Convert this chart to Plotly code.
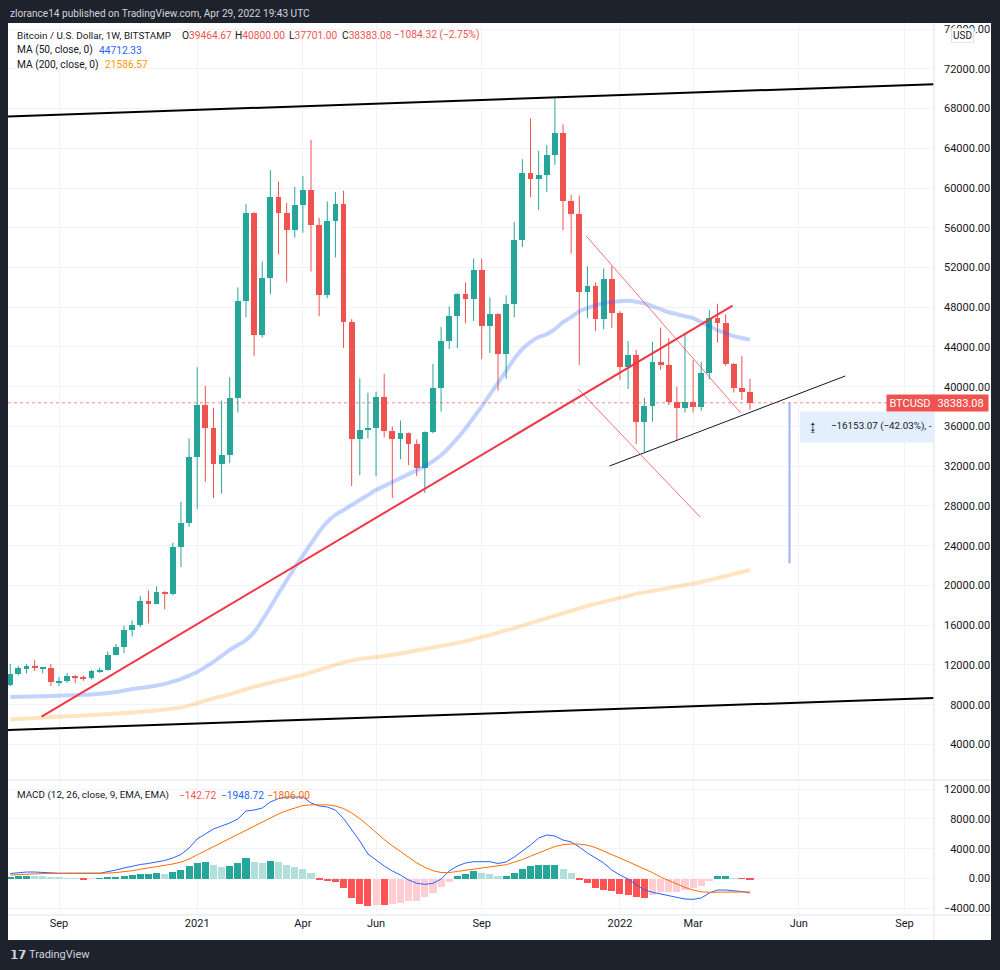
import plotly.graph_objects as go
import pandas as pd

# ---------------- data ----------------
dates = pd.date_range("2020-07-27", periods=92, freq="7D")

opens = [9930, 11050, 11680, 11880, 11650, 11700, 10250, 10340, 10930, 10780,
         10680, 11380, 11500, 13030, 13780, 15480, 15970, 18420, 18180, 19350,
         19150, 23860, 26250, 32950, 38150, 35800, 32250, 33100, 38900, 48600,
         57500, 45250, 50970, 59050, 57450, 55800, 58250, 59850, 56300, 49200,
         56700, 58380, 46500, 34700, 35650, 35800, 39000, 35500, 34700, 35300,
         34250, 31800, 35400, 39900, 44600, 47100, 49300, 48800, 51800, 46100,
         47350, 43300, 48300, 54800, 61550, 60900, 61350, 63300, 65500, 58710,
         57380, 49560, 50150, 46780, 50860, 47380, 41950, 43150, 36420, 38100,
         42500, 42180, 38480, 37850, 38500, 37960, 41370, 46900, 46450, 42260,
         39830, 39464.67]
highs = [12100, 11900, 12080, 12480, 11800, 12090, 10800, 11180, 10990, 10960,
         11490, 11730, 13350, 14100, 15960, 16480, 18960, 19500, 19920, 19420,
         24300, 28420, 34800, 41950, 40100, 37850, 38600, 40950, 50000, 58400,
         57550, 52600, 61800, 60650, 58500, 60100, 61200, 64850, 57000, 58650,
         59600, 59720, 46800, 40850, 39400, 39500, 41300, 36000, 36600, 35400,
         34700, 35500, 42300, 46000, 48100, 49400, 50500, 52900, 52900, 48980,
         47400, 49200, 56580, 62900, 67000, 63730, 64330, 69000, 66400, 59300,
         59250, 52130, 50500, 51890, 52130, 47600, 44600, 43690, 38900, 44500,
         45950, 44870, 40000, 45370, 42700, 42500, 47700, 48350, 47280, 42400,
         43100, 40800.00]
lows = [9860, 10950, 11150, 11380, 11140, 9860, 9880, 10200, 10150, 10400,
        10540, 11200, 11420, 12960, 13200, 14850, 15800, 16200, 18100, 17600,
        19000, 21850, 25900, 27700, 30400, 28800, 29250, 32300, 37400, 47000,
        43100, 44950, 49300, 53300, 50500, 55000, 55500, 51600, 47100, 48900,
        53000, 43900, 30000, 31100, 34800, 31000, 34900, 28800, 32700, 32100,
        31000, 29300, 35300, 37500, 43800, 43900, 46400, 46600, 42800, 43400,
        39600, 40800, 47000, 54070, 59080, 57800, 59590, 62330, 55740, 53400,
        42170, 46900, 45600, 45780, 45900, 40700, 39760, 34240, 33400, 36480,
        41700, 38150, 34570, 37400, 37400, 37600, 40760, 44440, 42100, 39420,
        38680, 37701.00]
closes = [11050, 11680, 11880, 11650, 11700, 10250, 10340, 10930, 10780, 10680,
          11380, 11500, 13030, 13780, 15480, 15970, 18420, 18180, 19350, 19150,
          23860, 26250, 32950, 38150, 35800, 32250, 33100, 38900, 48600, 57500,
          45250, 50970, 59050, 57450, 55800, 58250, 59850, 56300, 49200, 56700,
          58380, 46500, 34700, 35650, 35800, 39000, 35500, 34700, 35300, 34250,
          31800, 35400, 39900, 44600, 47100, 49300, 48800, 51800, 46100, 47350,
          43300, 48300, 54800, 61550, 60900, 61350, 63300, 65500, 58710, 57380,
          49560, 50150, 46780, 50860, 47380, 41950, 43150, 36420, 38100, 42500,
          42180, 38480, 37850, 38500, 37960, 41370, 46900, 46450, 42260, 39830,
          39464.67, 38383.08]
last_change = -1084.32
last_change_pct = -2.75

ma50 = [8770, 8790, 8810, 8830, 8850, 8870, 8900, 8930, 8960, 8990,
        9020, 9100, 9180, 9270, 9420, 9580, 9680, 9780, 9930, 10080,
        10330, 10580, 10930, 11290, 11790, 12300, 12900, 13500, 14000, 14500,
        15300, 16500, 17800, 19200, 20500, 21800, 23000, 24200, 25400, 26400,
        27100, 27600, 28100, 28600, 29100, 29600, 30000, 30400, 30800, 31200,
        31600, 32000, 32500, 33100, 33900, 34800, 35800, 36900, 38000, 39200,
        40400, 41600, 42800, 43800, 44500, 45000, 45300, 45800, 46500, 47000,
        47600, 47900, 48200, 48400, 48550, 48600, 48650, 48550, 48400, 48100,
        47800, 47500, 47300, 47100, 46900, 46500, 46100, 45700, 45400, 45100,
        44900, 44712.33]
ma200 = [6500, 6550, 6600, 6650, 6700, 6750, 6790, 6830, 6870, 6910,
         6950, 7000, 7050, 7100, 7160, 7220, 7280, 7350, 7420, 7500,
         7600, 7720, 7900, 8150, 8400, 8650, 8850, 9050, 9300, 9550,
         9800, 10000, 10200, 10400, 10600, 10800, 11000, 11250, 11500, 11750,
         12000, 12250, 12450, 12600, 12700, 12800, 12900, 13000, 13150, 13300,
         13450, 13600, 13750, 13900, 14050, 14200, 14400, 14600, 14800, 15000,
         15250, 15500, 15700, 15950, 16200, 16450, 16700, 16950, 17200, 17450,
         17700, 17950, 18150, 18350, 18550, 18750, 18950, 19150, 19300, 19450,
         19600, 19750, 19900, 20050, 20200, 20350, 20550, 20750, 20950, 21150,
         21350, 21586.57]

macd_line = [670, 800, 870, 870, 800, 740, 700, 700, 670, 670,
             700, 700, 870, 1140, 1410, 1680, 1880, 2020, 2220, 2420,
             2760, 3230, 4100, 5310, 5980, 6650, 7060, 7460, 8000, 9070,
             9200, 9470, 10280, 10750, 10950, 10990, 10950, 10150, 9740, 9610,
             9200, 8060, 6520, 5040, 3290, 2490, 1680, 1010, 470, -200,
             -650, -780, -650, -70, 1010, 1680, 2080, 2260, 2260, 2260,
             2020, 2220, 2890, 3700, 4500, 5440, 5850, 5710, 5170, 4910,
             4230, 3430, 2760, 2080, 1140, 470, -70, -870, -1550, -1850,
             -2080, -2350, -2620, -2760, -2800, -2620, -1950, -1550, -1550, -1610,
             -1750, -1948.72]
signal_line = [470, 540, 600, 640, 670, 690, 690, 690, 690, 690,
               690, 690, 720, 800, 900, 1040, 1240, 1410, 1580, 1760,
               1950, 2200, 2620, 3170, 3730, 4300, 4860, 5380, 5900, 6540,
               7100, 7580, 8150, 8680, 9120, 9500, 9800, 9900, 9950, 9900,
               9750, 9400, 8800, 8050, 7140, 6160, 5240, 4400, 3600, 2800,
               2100, 1500, 1050, 800, 800, 950, 1120, 1300, 1450, 1600,
               1710, 1850, 2150, 2550, 3000, 3450, 3900, 4300, 4550, 4640,
               4620, 4480, 4150, 3720, 3200, 2750, 2250, 1800, 1350, 800,
               200, -300, -750, -1200, -1550, -1800, -1850, -1850, -1830, -1820,
               -1810, -1806.00]
macd_hist = [240, 300, 310, 290, 280, 150, 90, 40, 30, -120,
             -30, 60, 90, 150, 330, 420, 550, 640, 690, 660,
             820, 1140, 1640, 2130, 2240, 1840, 1500, 1640, 2150, 2820,
             2280, 2150, 2370, 2190, 1870, 1520, 1300, 800, -150, -300,
             -450, -1340, -2600, -3360, -3670, -3580, -3600, -3450, -3270, -3090,
             -3000, -2550, -1930, -1120, -450, 310, 630, 990, 760, 670,
             300, 330, 760, 1340, 1700, 1780, 1790, 1800, 1250, 760,
             -130, -670, -1340, -1480, -1660, -2020, -2150, -2500, -2560, -2150,
             -1880, -1860, -1790, -1480, -1340, -980, -310, 310, 320, 60,
             -50, -142.72]

price_ticks = [4000, 8000, 12000, 16000, 20000, 24000, 28000, 32000, 36000, 40000,
               44000, 48000, 52000, 56000, 60000, 64000, 68000, 72000, 76000]
macd_ticks = [-4000, 0, 4000, 8000, 12000]
time_tickvals = ["2020-09-07", "2021-01-04", "2021-04-05", "2021-06-07", "2021-09-06",
                 "2022-01-03", "2022-03-07", "2022-06-06", "2022-09-05"]
time_ticktext = ["Sep", "2021", "Apr", "Jun", "Sep", "2022", "Mar", "Jun", "Sep"]

# drawings (date, price)
channel_top_x = ["2020-07-25", "2022-09-30"]
channel_top_y = [67200, 70450]
channel_bot_x = ["2020-07-25", "2022-09-30"]
channel_bot_y = [5450, 8670]
trend_red_x = ["2020-08-23", "2022-04-10"]
trend_red_y = [6790, 48160]
support_x = ["2021-12-25", "2022-07-16"]
support_y = [32020, 41080]
wedge_top_x = ["2021-12-05", "2022-04-17"]
wedge_top_y = [55170, 37360]
wedge_bot_x = ["2021-11-28", "2022-03-13"]
wedge_bot_y = [39770, 26890]
measure_date = "2022-05-29"
measure_change = -16153.07
measure_pct = -42.03

# ---------------- styling helpers ----------------
FONT = "Roboto, 'Noto Sans', sans-serif"
UP, DOWN = "#26a69a", "#ef5350"
TXT = "#131722"
GRID = "#f0f3fa"
BORDER = "#e0e3eb"
W, H = 1000, 970
L, R, T, B = 8, 66, 23, 55
PW, PH = W - L - R, H - T - B


def px(xp):
    return (xp - L) / PW


def py(yp):
    return (H - B - yp) / PH


def fmt(v):
    s = f"{abs(v):.2f}"
    return ("−" if v < 0 else "") + s


def pad(label, width):
    return "\u2007" * max(0, width - len(label)) + label


fig = go.Figure()

# ---------------- candles ----------------
up_idx = [i for i in range(len(dates)) if closes[i] >= opens[i]]
dn_idx = [i for i in range(len(dates)) if closes[i] < opens[i]]

for idx, col in ((up_idx, UP), (dn_idx, DOWN)):
    wx, wy = [], []
    for i in idx:
        wx += [dates[i], dates[i], None]
        wy += [lows[i], highs[i], None]
    fig.add_trace(go.Scatter(x=wx, y=wy, mode="lines", line=dict(color=col, width=1),
                             hoverinfo="skip", showlegend=False))
    fig.add_trace(go.Bar(
        x=[dates[i] for i in idx],
        base=[min(opens[i], closes[i]) for i in idx],
        y=[max(abs(closes[i] - opens[i]), 150) for i in idx],
        width=5.0 * 86400000, marker=dict(color=col, line=dict(width=0)),
        showlegend=False, hoverinfo="skip"))

# moving averages
fig.add_trace(go.Scatter(x=dates, y=ma50, mode="lines",
                         line=dict(color="rgba(41,98,255,0.28)", width=4, shape="spline"),
                         showlegend=False, hoverinfo="skip"))
fig.add_trace(go.Scatter(x=dates, y=ma200, mode="lines",
                         line=dict(color="rgba(255,152,0,0.25)", width=4, shape="spline"),
                         showlegend=False, hoverinfo="skip"))

# drawings
fig.add_trace(go.Scatter(x=channel_top_x, y=channel_top_y, mode="lines",
                         line=dict(color="#000000", width=2), showlegend=False, hoverinfo="skip"))
fig.add_trace(go.Scatter(x=channel_bot_x, y=channel_bot_y, mode="lines",
                         line=dict(color="#000000", width=2), showlegend=False, hoverinfo="skip"))
fig.add_trace(go.Scatter(x=trend_red_x, y=trend_red_y, mode="lines",
                         line=dict(color="#f23645", width=2), showlegend=False, hoverinfo="skip"))
fig.add_trace(go.Scatter(x=support_x, y=support_y, mode="lines",
                         line=dict(color="#131722", width=1), showlegend=False, hoverinfo="skip"))
fig.add_trace(go.Scatter(x=wedge_top_x, y=wedge_top_y, mode="lines",
                         line=dict(color="rgba(242,54,69,0.7)", width=1), showlegend=False, hoverinfo="skip"))
fig.add_trace(go.Scatter(x=wedge_bot_x, y=wedge_bot_y, mode="lines",
                         line=dict(color="rgba(242,54,69,0.7)", width=1), showlegend=False, hoverinfo="skip"))

last_close = closes[-1]
target = last_close + measure_change
fig.add_trace(go.Scatter(x=[measure_date, measure_date], y=[last_close, target], mode="lines",
                         line=dict(color="#9db2f7", width=2), showlegend=False, hoverinfo="skip"))

# ---------------- MACD pane ----------------
hist_cols = []
for i, v in enumerate(macd_hist):
    prev = macd_hist[i - 1] if i > 0 else v - 1
    if v >= 0:
        hist_cols.append("#26a69a" if v > prev else "#b2dfdb")
    else:
        hist_cols.append("#ffcdd2" if v > prev else "#ff5252")
fig.add_trace(go.Bar(x=dates, y=macd_hist, yaxis="y2", width=6.1 * 86400000,
                     marker=dict(color=hist_cols, line=dict(width=0)),
                     showlegend=False, hoverinfo="skip"))
fig.add_trace(go.Scatter(x=dates, y=macd_line, yaxis="y2", mode="lines",
                         line=dict(color="#2962ff", width=1), showlegend=False, hoverinfo="skip"))
fig.add_trace(go.Scatter(x=dates, y=signal_line, yaxis="y2", mode="lines",
                         line=dict(color="#ff6d00", width=1), showlegend=False, hoverinfo="skip"))

# ---------------- layout ----------------
price_lo = 72000 - (779 - 68.8) * 100.65
price_hi = 72000 + (68.8 - 23) * 100.65
macd_hi = (878.5 - 781) / 0.00744
macd_lo = (878.5 - 915) / 0.00744

fig.update_layout(
    width=W, height=H,
    margin=dict(l=L, r=R, t=T, b=B),
    paper_bgcolor="#1e222d", plot_bgcolor="#ffffff",
    font=dict(family=FONT, color=TXT, size=11),
    bargap=0, barmode="overlay",
    xaxis=dict(type="date", range=["2020-07-25 02:00", "2022-09-30 10:00"], anchor="y2",
               tickvals=time_tickvals, ticktext=time_ticktext, showgrid=True, gridcolor=GRID,
               gridwidth=1, zeroline=False, showline=False, ticks="",
               tickfont=dict(size=11, color=TXT, family=FONT), fixedrange=True),
    yaxis=dict(domain=[py(779), 1], range=[price_lo, price_hi], side="right",
               tickvals=price_ticks, ticktext=[pad(f"{v:.2f}", 8) for v in price_ticks],
               showgrid=True, gridcolor=GRID, zeroline=False, showline=False, ticks="",
               ticklabelstandoff=9, tickfont=dict(size=11, color=TXT, family=FONT)),
    yaxis2=dict(domain=[0, py(781)], range=[macd_lo, macd_hi], side="right", anchor="x",
                tickvals=macd_ticks, ticktext=[pad(fmt(v), 8) for v in macd_ticks],
                showgrid=True, gridcolor=GRID, zeroline=False, showline=False, ticks="",
                ticklabelstandoff=9, tickfont=dict(size=11, color=TXT, family=FONT)),
    showlegend=False,
)

shapes = [
    dict(type="rect", xref="paper", yref="paper", x0=px(8), x1=px(991), y0=py(940), y1=py(23),
         fillcolor="#ffffff", line=dict(width=0), layer="below"),
    dict(type="line", xref="paper", yref="paper", x0=px(8), x1=px(991), y0=py(780), y1=py(780),
         line=dict(color=BORDER, width=1)),
    dict(type="line", xref="paper", yref="paper", x0=1, x1=1, y0=py(940), y1=py(23),
         line=dict(color=BORDER, width=1)),
    dict(type="line", xref="paper", yref="paper", x0=px(8), x1=px(991), y0=0, y1=0,
         line=dict(color=BORDER, width=1)),
    dict(type="line", xref="paper", yref="y", x0=0, x1=1, y0=last_close, y1=last_close,
         line=dict(color="rgba(239,83,80,0.7)", width=1, dash="dot")),
    dict(type="rect", xref="x", yref="y", x0="2022-06-07", x1="2022-09-30 10:00",
         y0=last_close - 3990, y1=last_close - 880,
         fillcolor="#e3effd", line=dict(width=0)),
]
fig.update_layout(shapes=shapes)

red = "#ef5350"
LEG = 10.2
ann = [
    dict(x=px(8), y=py(13), text="zlorance14 published on TradingView.com, Apr 29, 2022 19:43 UTC",
         font=dict(size=10.1, color="#d1d4dc")),
    # legend line 1 segments
    dict(x=px(15), y=py(35), text="Bitcoin / U.S. Dollar, 1W, BITSTAMP", font=dict(size=9.9, color=TXT)),
    dict(x=px(180), y=py(35), text="O<span style='color:%s'>%.2f</span>" % (red, opens[-1]),
         font=dict(size=LEG, color=TXT)),
    dict(x=px(233), y=py(35), text="H<span style='color:%s'>%.2f</span>" % (red, highs[-1]),
         font=dict(size=LEG, color=TXT)),
    dict(x=px(287), y=py(35), text="L<span style='color:%s'>%.2f</span>" % (red, lows[-1]),
         font=dict(size=LEG, color=TXT)),
    dict(x=px(340), y=py(35), text="C<span style='color:%s'>%.2f</span>" % (red, closes[-1]),
         font=dict(size=LEG, color=TXT)),
    dict(x=px(392), y=py(35), text="%s (%s%%)" % (fmt(last_change), fmt(last_change_pct)),
         font=dict(size=LEG, color=red)),
    # MA legends
    dict(x=px(15), y=py(50.5), text="MA (50, close, 0)", font=dict(size=LEG, color=TXT)),
    dict(x=px(97), y=py(50.5), text="%.2f" % ma50[-1], font=dict(size=LEG, color="#2962ff")),
    dict(x=px(15), y=py(64.5), text="MA (200, close, 0)", font=dict(size=LEG, color=TXT)),
    dict(x=px(103), y=py(64.5), text="%.2f" % ma200[-1], font=dict(size=LEG, color="#ff9800")),
    # MACD legend
    dict(x=px(15), y=py(795), text="MACD (12, 26, close, 9, EMA, EMA)", font=dict(size=9.9, color=TXT)),
    dict(x=px(177), y=py(795), text=fmt(macd_hist[-1]), font=dict(size=LEG, color="#ff5252")),
    dict(x=px(219), y=py(795), text=fmt(macd_line[-1]), font=dict(size=LEG, color="#2962ff")),
    dict(x=px(265), y=py(795), text=fmt(signal_line[-1]), font=dict(size=LEG, color="#ff6d00")),
    # footer
    dict(x=px(8), y=py(955), text="<b>𝟭𝟳</b>", font=dict(size=12, color="#d1d4dc")),
    dict(x=px(27), y=py(955), text="TradingView", font=dict(size=11, color="#d1d4dc")),
    # measure label
    dict(x=px(829), y=py(426.5), text="%s (%s%%), -" % (fmt(measure_change), fmt(measure_pct)),
         font=dict(size=9.8, color=TXT)),
    dict(x=px(813), y=py(426.5), text="↨", xanchor="center", font=dict(size=15, color=TXT)),
]
anns = []
for a in ann:
    d = dict(xref="paper", yref="paper", showarrow=False, xanchor=a.pop("xanchor", "left"),
             yanchor="middle")
    d.update(a)
    anns.append(d)

anns.append(dict(xref="paper", yref="y", x=px(909.5), y=last_close, text="BTCUSD",
                 showarrow=False, xanchor="center", yanchor="middle", bgcolor=red,
                 width=44, height=14, font=dict(size=11, color="#ffffff")))
anns.append(dict(xref="paper", yref="y", x=px(960), y=last_close, text=f"{last_close:.2f}",
                 showarrow=False, xanchor="center", yanchor="middle", bgcolor=red,
                 width=53, height=14, font=dict(size=11, color="#ffffff")))
anns.append(dict(xref="paper", yref="paper", x=px(962), y=py(35), text="USD", showarrow=False,
                 xanchor="center", yanchor="middle", bgcolor="#ffffff", bordercolor=BORDER,
                 borderwidth=1, borderpad=1, font=dict(size=10, color=TXT)))
fig.update_layout(annotations=anns)

fig.write_html("out.html")
